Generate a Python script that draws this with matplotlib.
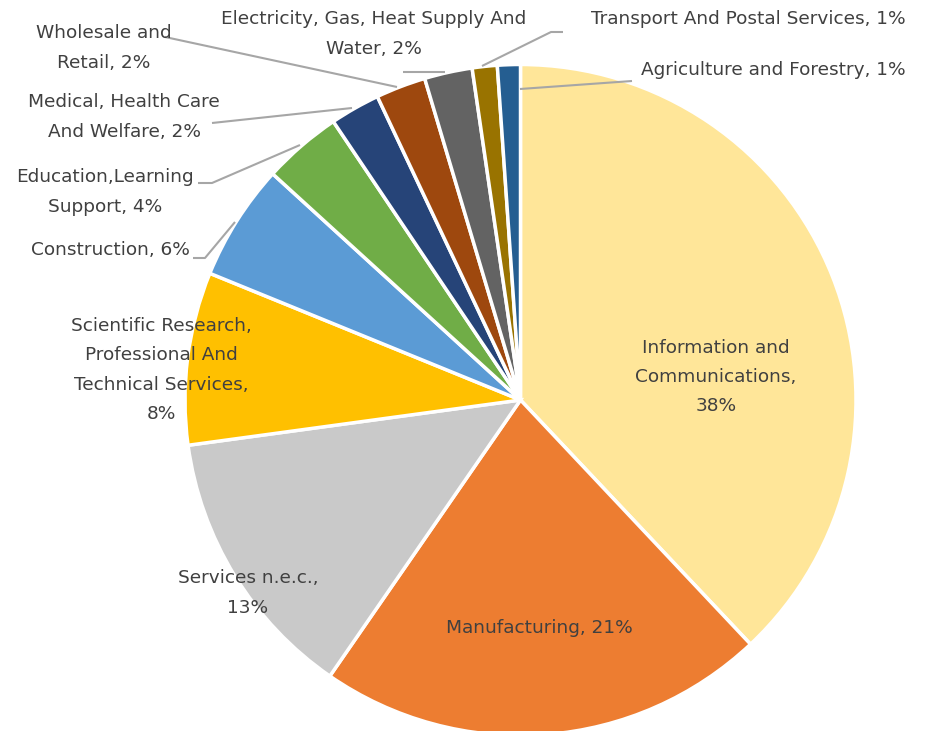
import matplotlib.pyplot as plt

# industry share, clockwise from 12 o'clock
sectors = ['Information and Communications', 'Manufacturing', 'Services n.e.c.',
           'Scientific Research, Professional And Technical Services', 'Construction',
           'Education,Learning Support', 'Medical, Health Care And Welfare',
           'Wholesale and Retail', 'Electricity, Gas, Heat Supply And Water',
           'Transport And Postal Services', 'Agriculture and Forestry']
shares = [37.9, 21.6, 13.2, 8.3, 5.6, 3.8, 2.4, 2.4, 2.3, 1.2, 1.1]
pct_labels = ['38%', '21%', '13%', '8%', '6%', '4%', '2%', '2%', '2%', '1%', '1%']
colors = ['#FFE699', '#ED7D31', '#C9C9C9', '#FFC000', '#5B9BD5', '#70AD47',
          '#264478', '#9E480E', '#636363', '#997300', '#255E91']

# label text as laid out in the chart
label_text = [
    'Information and\nCommunications,\n38%',
    'Manufacturing, 21%',
    'Services n.e.c.,\n13%',
    'Scientific Research,\nProfessional And\nTechnical Services,\n8%',
    'Construction, 6%',
    'Education,Learning\nSupport, 4%',
    'Medical, Health Care\nAnd Welfare, 2%',
    'Wholesale and\nRetail, 2%',
    'Electricity, Gas, Heat Supply And\nWater, 2%',
    'Transport And Postal Services, 1%',
    'Agriculture and Forestry, 1%',
]

W, H = 926, 731
# label centres in pixel coords (from top)
label_pos = [(716, 377), (539, 628), (248, 593), (161, 370), (110, 250), (105, 192),
             (124, 117), (104, 48), (374, 34), (748, 19), (773, 70)]
# leader line paths (pixel coords from top), None where no leader
leaders = [None, None, None, None,
           [(193, 258), (205, 258), (235, 222)],
           [(198, 183), (212, 183), (300, 145)],
           [(212, 123), (352, 108)],
           [(165, 37), (397, 87)],
           [(403, 72), (445, 72)],
           [(563, 32), (551, 32), (482, 66)],
           [(632, 81), (520, 89)]]

fig = plt.figure(figsize=(W / 100, H / 100), dpi=100)
ax = fig.add_axes([0, 0, 1, 1])

ax.pie(shares, colors=colors, startangle=90, counterclock=False,
       center=(520.5, H - 400), radius=335.5,
       wedgeprops=dict(edgecolor='white', linewidth=2.5))
ax.set_xlim(0, W)
ax.set_ylim(0, H)
ax.set_aspect('equal')
ax.axis('off')

for txt, (x, y), path in zip(label_text, label_pos, leaders):
    ax.text(x, H - y, txt, ha='center', va='center', fontsize=13.3,
            color='#404040', linespacing=1.82, family='DejaVu Sans')
    if path:
        ax.plot([p[0] for p in path], [H - p[1] for p in path],
                color='#A6A6A6', linewidth=1.5, solid_capstyle='butt')

fig.savefig('out.png', dpi=100)
